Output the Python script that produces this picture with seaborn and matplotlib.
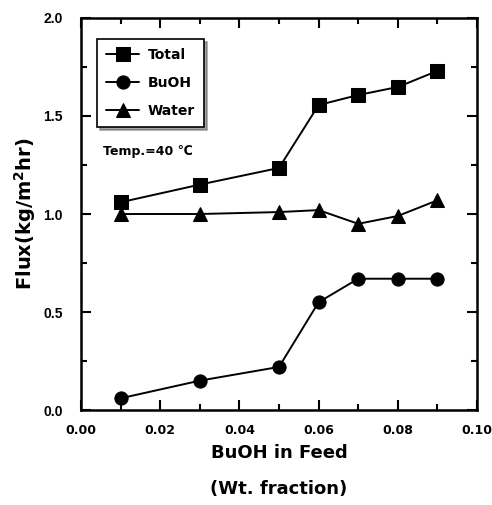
import numpy as np
import pandas as pd
import matplotlib
matplotlib.use("Agg")
import matplotlib.pyplot as plt
import seaborn as sns
from matplotlib.ticker import MultipleLocator

sns.set_theme(style="ticks")
plt.rcParams['font.family'] = ['DejaVu Sans']
plt.rcParams['font.weight'] = 'bold'
plt.rcParams['mathtext.default'] = 'bf'
plt.rcParams['text.color'] = 'black'
plt.rcParams['axes.labelcolor'] = 'black'
plt.rcParams['xtick.color'] = 'black'
plt.rcParams['ytick.color'] = 'black'

x_feed = [0.01, 0.03, 0.05, 0.06, 0.07, 0.08, 0.09]
total = [1.06, 1.15, 1.235, 1.556, 1.607, 1.648, 1.73]
buoh = [0.06, 0.15, 0.22, 0.55, 0.67, 0.67, 0.67]
water = [1.00, 1.00, 1.01, 1.02, 0.95, 0.99, 1.07]
series_names = ["Total", "BuOH", "Water"]

df = pd.DataFrame({
    "x": x_feed * 3,
    "y": total + buoh + water,
    "series": [n for n in series_names for _ in x_feed],
})

fig = plt.figure(figsize=(4.92, 5.05), dpi=100)
ax = fig.add_axes([0.1646, 0.188, 0.805, 0.7764])

sns.lineplot(data=df, x="x", y="y", hue="series", style="series",
             palette={n: "black" for n in series_names},
             markers={"Total": "s", "BuOH": "o", "Water": "^"},
             dashes=False, markersize=9.5, linewidth=1.4,
             markeredgecolor="black", ax=ax, legend=True)

ax.set_xlim(0, 0.10)
ax.set_ylim(0, 2.0)
ax.xaxis.set_major_locator(MultipleLocator(0.02))
ax.xaxis.set_minor_locator(MultipleLocator(0.01))
ax.yaxis.set_major_locator(MultipleLocator(0.5))
ax.yaxis.set_minor_locator(MultipleLocator(0.25))
ax.set_xticklabels([f"{v:.2f}" for v in ax.get_xticks()],
                   fontdict={"family": "DejaVu Sans", "weight": "bold", "size": 9})
ax.set_yticklabels([f"{v:.1f}" for v in ax.get_yticks()],
                   fontdict={"family": "Liberation Sans", "weight": "bold", "size": 10})
ax.tick_params(which="both", direction="in", top=True, right=True, width=1.5,
               colors="black")
ax.tick_params(axis="x", which="major", pad=10)
ax.tick_params(axis="y", which="major", pad=13)
ax.tick_params(which="major", length=7)
ax.tick_params(which="minor", length=4)
for s in ax.spines.values():
    s.set_linewidth(1.8)
    s.set_color("black")

ax.set_xlabel("BuOH in Feed\n(Wt. fraction)", fontsize=13, fontweight="bold",
              linespacing=2.3, labelpad=5, color="black")
ax.set_ylabel("Flux(kg/m$^2$hr)", fontsize=14, fontweight="bold", labelpad=4,
              color="black")

leg = ax.legend(loc="upper left", bbox_to_anchor=(0.040, 0.946), borderaxespad=0,
                frameon=True, fancybox=False, shadow=True, edgecolor="black",
                handlelength=2.4, handletextpad=0.6, borderpad=0.65, labelspacing=1.0,
                prop={"weight": "bold", "size": 10})
leg.get_frame().set_linewidth(1.2)
leg.set_title(None)
for t in leg.get_texts():
    t.set_color("black")

ax.text(0.055, 0.66, "Temp.=40 ℃", transform=ax.transAxes, fontsize=9,
        fontweight="bold", va="center", color="black")

fig.savefig("out.png", dpi=100)
